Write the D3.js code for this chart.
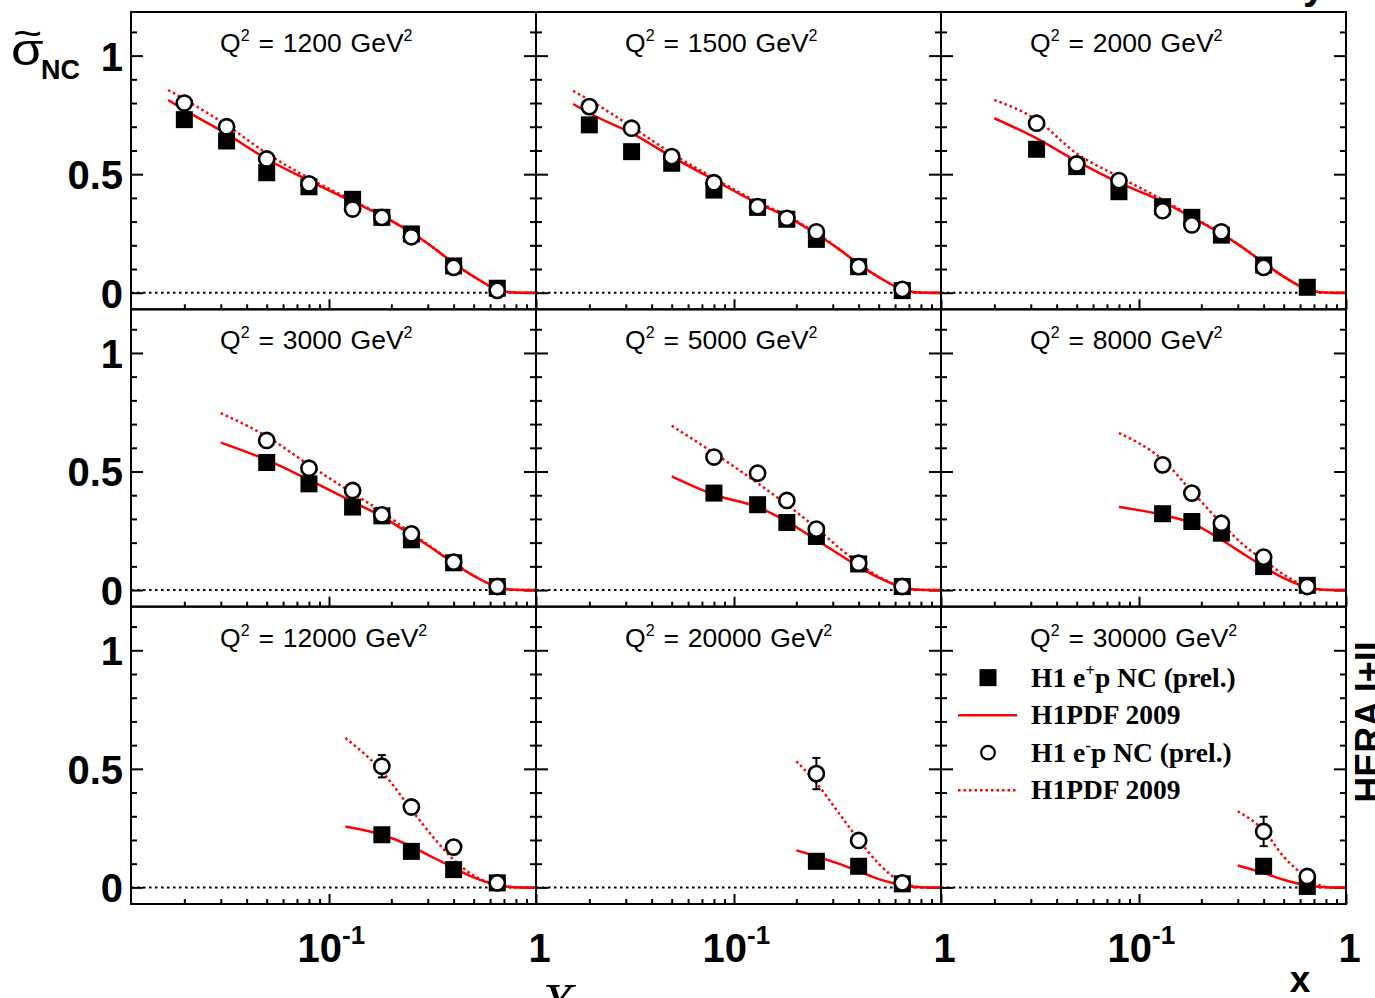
<!DOCTYPE html>
<html>
<head>
<meta charset="utf-8">
<script src="https://cdn.jsdelivr.net/npm/d3@7"></script>
<style>
  body { margin: 0; background: #fff; }
  svg { display: block; }
</style>
</head>
<body>
<svg id="chart" width="1375" height="998"></svg>
<script>
// Q^2 of each panel (GeV^2), in reading order
const q2Values = [1200, 1500, 2000, 3000, 5000, 8000, 12000, 20000, 30000];

// Bjorken-x bin centres shared by all panels
const xBins = [0.02, 0.032, 0.05, 0.08, 0.13, 0.18, 0.25, 0.40, 0.65];

// Reduced NC cross section, e+p (null = no measurement in that bin)
const sigmaPositron = [
  [0.730, 0.640, 0.506, 0.447, 0.394, 0.318, 0.248, 0.113, 0.019],
  [0.708, 0.595, 0.546, 0.433, 0.360, 0.310, 0.225, 0.110, 0.009],
  [null, 0.605, 0.532, 0.426, 0.363, 0.318, 0.243, 0.117, 0.023],
  [null, null, 0.538, 0.448, 0.350, 0.313, 0.212, 0.115, 0.015],
  [null, null, null, 0.409, 0.360, 0.285, 0.226, 0.110, 0.015],
  [null, null, null, null, 0.322, 0.289, 0.240, 0.099, 0.020],
  [null, null, null, null, null, 0.222, 0.152, 0.075, 0.019],
  [null, null, null, null, null, null, 0.110, 0.089, 0.015],
  [null, null, null, null, null, null, null, 0.089, 0.004]
];

// Reduced NC cross section, e-p
const sigmaElectron = [
  [0.800, 0.700, 0.564, 0.459, 0.353, 0.318, 0.236, 0.107, 0.010],
  [0.785, 0.694, 0.574, 0.464, 0.363, 0.314, 0.257, 0.110, 0.014],
  [null, 0.715, 0.543, 0.473, 0.346, 0.286, 0.257, 0.107, null],
  [null, null, 0.631, 0.514, 0.420, 0.317, 0.237, 0.118, 0.015],
  [null, null, null, 0.561, 0.493, 0.378, 0.257, 0.113, 0.015],
  [null, null, null, null, 0.528, 0.409, 0.282, 0.139, 0.015],
  [null, null, null, null, null, 0.511, 0.339, 0.170, 0.019],
  [null, null, null, null, null, null, 0.480, 0.198, 0.019],
  [null, null, null, null, null, null, null, 0.236, 0.046]
];

// Total uncertainty on the e-p points
const errElectron = [
  [0.01, 0.01, 0.01, 0.01, 0.01, 0.01, 0.01, 0.01, 0.005],
  [0.01, 0.01, 0.01, 0.01, 0.01, 0.01, 0.01, 0.01, 0.005],
  [0, 0.01, 0.01, 0.01, 0.01, 0.01, 0.01, 0.01, 0],
  [0, 0, 0.015, 0.01, 0.01, 0.01, 0.01, 0.01, 0.005],
  [0, 0, 0, 0.02, 0.015, 0.01, 0.01, 0.01, 0.005],
  [0, 0, 0, 0, 0.025, 0.02, 0.015, 0.01, 0.005],
  [0, 0, 0, 0, 0, 0.047, 0.025, 0.015, 0.005],
  [0, 0, 0, 0, 0, 0, 0.066, 0.025, 0.008],
  [0, 0, 0, 0, 0, 0, 0, 0.062, 0.02]
];

// H1PDF 2009 prediction for e+p, [x, sigma] samples per panel
const fitPositron = [
  [[0.0167,0.813],[0.02,0.771],[0.032,0.670],[0.05,0.564],[0.08,0.473],[0.13,0.384],[0.18,0.325],[0.25,0.253],[0.32,0.190],[0.40,0.124],[0.50,0.068],[0.65,0.014],[0.75,0.002],[0.85,0],[1,0]],
  [[0.0167,0.796],[0.02,0.757],[0.032,0.673],[0.05,0.574],[0.08,0.476],[0.13,0.377],[0.18,0.321],[0.25,0.248],[0.32,0.185],[0.40,0.121],[0.50,0.066],[0.65,0.014],[0.75,0.002],[0.85,0],[1,0]],
  [[0.02,0.736],[0.032,0.651],[0.05,0.555],[0.08,0.464],[0.13,0.384],[0.18,0.318],[0.25,0.248],[0.32,0.188],[0.40,0.126],[0.50,0.068],[0.65,0.014],[0.75,0.002],[0.85,0],[1,0]],
  [[0.03,0.622],[0.05,0.549],[0.08,0.465],[0.13,0.373],[0.18,0.310],[0.25,0.233],[0.32,0.172],[0.40,0.113],[0.50,0.060],[0.65,0.013],[0.75,0.002],[0.85,0],[1,0]],
  [[0.05,0.479],[0.08,0.402],[0.13,0.350],[0.18,0.289],[0.25,0.212],[0.32,0.152],[0.40,0.099],[0.50,0.052],[0.65,0.012],[0.75,0.002],[0.85,0],[1,0]],
  [[0.08,0.350],[0.13,0.317],[0.18,0.282],[0.25,0.212],[0.32,0.152],[0.40,0.099],[0.50,0.050],[0.65,0.012],[0.75,0.002],[0.85,0],[1,0]],
  [[0.12,0.257],[0.18,0.222],[0.25,0.173],[0.32,0.125],[0.40,0.083],[0.50,0.042],[0.65,0.010],[0.75,0.002],[0.85,0],[1,0]],
  [[0.20,0.156],[0.25,0.131],[0.32,0.100],[0.40,0.068],[0.50,0.035],[0.65,0.010],[0.75,0.002],[0.85,0],[1,0]],
  [[0.30,0.092],[0.40,0.061],[0.50,0.032],[0.65,0.008],[0.75,0.002],[0.85,0],[1,0]]
];

// H1PDF 2009 prediction for e-p
const fitElectron = [
  [[0.0167,0.855],[0.02,0.816],[0.032,0.707],[0.05,0.588],[0.08,0.483],[0.13,0.389],[0.18,0.327],[0.25,0.254],[0.32,0.190],[0.40,0.124],[0.50,0.068],[0.65,0.014],[0.75,0.002],[0.85,0],[1,0]],
  [[0.0167,0.851],[0.02,0.813],[0.032,0.700],[0.05,0.588],[0.08,0.483],[0.13,0.383],[0.18,0.325],[0.25,0.250],[0.32,0.186],[0.40,0.121],[0.50,0.066],[0.65,0.014],[0.75,0.002],[0.85,0],[1,0]],
  [[0.02,0.813],[0.032,0.729],[0.05,0.587],[0.08,0.489],[0.13,0.392],[0.18,0.322],[0.25,0.250],[0.32,0.189],[0.40,0.126],[0.50,0.068],[0.65,0.014],[0.75,0.002],[0.85,0],[1,0]],
  [[0.03,0.746],[0.05,0.648],[0.08,0.528],[0.13,0.409],[0.18,0.330],[0.25,0.240],[0.32,0.175],[0.40,0.115],[0.50,0.061],[0.65,0.013],[0.75,0.002],[0.85,0],[1,0]],
  [[0.05,0.693],[0.08,0.578],[0.13,0.451],[0.18,0.360],[0.25,0.261],[0.32,0.180],[0.40,0.113],[0.50,0.057],[0.65,0.013],[0.75,0.002],[0.85,0],[1,0]],
  [[0.08,0.662],[0.13,0.549],[0.18,0.416],[0.25,0.282],[0.32,0.190],[0.40,0.127],[0.50,0.065],[0.65,0.014],[0.75,0.002],[0.85,0],[1,0]],
  [[0.12,0.630],[0.18,0.490],[0.25,0.328],[0.32,0.210],[0.40,0.117],[0.50,0.050],[0.65,0.012],[0.75,0.002],[0.85,0],[1,0]],
  [[0.20,0.532],[0.25,0.440],[0.32,0.315],[0.40,0.201],[0.50,0.100],[0.65,0.020],[0.75,0.004],[0.85,0],[1,0]],
  [[0.30,0.321],[0.40,0.240],[0.50,0.130],[0.65,0.040],[0.75,0.008],[0.85,0],[1,0]]
];

// Axis ticks and their labels
const yMajorTicks = [0, 0.5, 1];
const yTickLabels = ["0", "0.5", "1"];
const yMinorTicks = [0.1, 0.2, 0.3, 0.4, 0.6, 0.7, 0.8, 0.9, 1.1];
const xMajorTicks = [0.1, 1];
const xMinorTicks = [0.02, 0.03, 0.04, 0.05, 0.06, 0.07, 0.08, 0.09, 0.2, 0.3, 0.4, 0.5, 0.6, 0.7, 0.8, 0.9];

// Legend entries
const legendLabels = [
  { kind: "square", pre: "H1 e", sup: "+", post: "p NC (prel.)" },
  { kind: "solid",  pre: "H1PDF 2009", sup: "", post: "" },
  { kind: "circle", pre: "H1 e", sup: "-", post: "p NC (prel.)" },
  { kind: "dotted", pre: "H1PDF 2009", sup: "", post: "" }
];

// ---------------------------------------------------------------- layout
const svg = d3.select("#chart");
const gridLeft = 131, gridTop = 12;
const panelW = 405, panelH = 297.33;
const SANS = "'Liberation Sans', Arial, Helvetica, sans-serif";
const SERIF = "'Liberation Serif', 'Times New Roman', serif";
const RED = "#ff0000";

const x = d3.scaleLog().domain([0.01105, 1]).range([0, panelW]);
const y = d3.scaleLinear().domain([-0.07, 1.184]).range([panelH, 0]);

const smoothLine = d3.line().x(d => x(d[0])).y(d => y(d[1])).curve(d3.curveMonotoneX);

function styleTicks(g) {
  g.select(".domain").remove();
  g.selectAll(".tick line").attr("stroke", "#000").attr("stroke-width", 2);
}

q2Values.forEach((q2, i) => {
  const row = Math.floor(i / 3), col = i % 3;
  const g = svg.append("g")
    .attr("transform", `translate(${gridLeft + col * panelW},${gridTop + row * panelH})`);

  // tick marks on the left, right and bottom edges (pointing inwards)
  g.append("g").call(d3.axisRight(y).tickValues(yMinorTicks).tickSize(6).tickFormat("")).call(styleTicks);
  g.append("g").call(d3.axisRight(y).tickValues(yMajorTicks).tickSize(12).tickFormat("")).call(styleTicks);
  g.append("g").attr("transform", `translate(${panelW},0)`)
    .call(d3.axisLeft(y).tickValues(yMinorTicks).tickSize(6).tickFormat("")).call(styleTicks);
  g.append("g").attr("transform", `translate(${panelW},0)`)
    .call(d3.axisLeft(y).tickValues(yMajorTicks).tickSize(12).tickFormat("")).call(styleTicks);
  g.append("g").attr("transform", `translate(0,${panelH})`)
    .call(d3.axisTop(x).tickValues(xMinorTicks).tickSize(5).tickFormat("")).call(styleTicks);
  g.append("g").attr("transform", `translate(0,${panelH})`)
    .call(d3.axisTop(x).tickValues(xMajorTicks).tickSize(10).tickFormat("")).call(styleTicks);

  // y tick labels on the first column
  if (col === 0) {
    const ax = g.append("g")
      .call(d3.axisLeft(y).tickValues(yMajorTicks).tickSize(0).tickPadding(8)
        .tickFormat((d, k) => yTickLabels[k]));
    ax.select(".domain").remove();
    ax.selectAll("text")
      .attr("font-family", SANS).attr("font-weight", "bold").attr("font-size", 40)
      .attr("fill", "#000").attr("dy", "0.36em");
  }

  // x tick labels on the bottom row
  if (row === 2) {
    const ax = g.append("g").attr("transform", `translate(0,${panelH})`)
      .call(d3.axisBottom(x).tickValues(xMajorTicks).tickSize(0).tickFormat(""));
    ax.select(".domain").remove();
    ax.selectAll(".tick").each(function (d) {
      const t = d3.select(this).append("text")
        .attr("font-family", SANS).attr("font-weight", "bold").attr("font-size", 40)
        .attr("fill", "#000").attr("y", 58);
      if (d === 1) {
        t.attr("text-anchor", "middle").attr("x", 3).text("1");
      } else {
        t.attr("text-anchor", "start").attr("x", -32);
        t.append("tspan").text("10");
        t.append("tspan").attr("font-size", 26).attr("dy", -18).text("-1");
      }
    });
  }

  // horizontal reference at zero
  g.append("line")
    .attr("x1", 0).attr("x2", panelW).attr("y1", y(0)).attr("y2", y(0))
    .attr("stroke", "#000").attr("stroke-width", 2).attr("stroke-dasharray", "2.5,3.5");

  // predictions
  g.append("path").datum(fitElectron[i])
    .attr("d", smoothLine).attr("fill", "none").attr("stroke", RED)
    .attr("stroke-width", 2.5).attr("stroke-dasharray", "2.5,3");
  g.append("path").datum(fitPositron[i])
    .attr("d", smoothLine).attr("fill", "none").attr("stroke", RED).attr("stroke-width", 2.5);

  // e+p points
  const plus = xBins.map((xv, k) => ({ x: xv, v: sigmaPositron[i][k] })).filter(d => d.v !== null);
  g.selectAll("rect.pos").data(plus).enter().append("rect")
    .attr("class", "pos")
    .attr("x", d => x(d.x) - 8.5).attr("y", d => y(d.v) - 8.5)
    .attr("width", 17).attr("height", 17).attr("fill", "#000");

  // e-p points with error bars
  const minus = xBins.map((xv, k) => ({ x: xv, v: sigmaElectron[i][k], e: errElectron[i][k] }))
    .filter(d => d.v !== null);
  const eb = g.selectAll("g.err").data(minus.filter(d => d.e > 0)).enter().append("g").attr("class", "err");
  eb.append("line")
    .attr("x1", d => x(d.x)).attr("x2", d => x(d.x))
    .attr("y1", d => y(d.v - d.e)).attr("y2", d => y(d.v + d.e))
    .attr("stroke", "#000").attr("stroke-width", 2);
  [1, -1].forEach(s => {
    eb.append("line")
      .attr("x1", d => x(d.x) - 4).attr("x2", d => x(d.x) + 4)
      .attr("y1", d => y(d.v + s * d.e)).attr("y2", d => y(d.v + s * d.e))
      .attr("stroke", "#000").attr("stroke-width", 2);
  });
  g.selectAll("circle.neg").data(minus).enter().append("circle")
    .attr("class", "neg")
    .attr("cx", d => x(d.x)).attr("cy", d => y(d.v)).attr("r", 7.6)
    .attr("fill", "#fff").attr("stroke", "#000").attr("stroke-width", 2.6);

  // panel frame
  g.append("rect").attr("width", panelW).attr("height", panelH)
    .attr("fill", "none").attr("stroke", "#000").attr("stroke-width", 2);

  // Q^2 label
  const lab = g.append("text")
    .attr("x", 89).attr("y", 40)
    .attr("font-family", SANS).attr("font-size", 26.5).attr("word-spacing", 1.5).attr("fill", "#000");
  lab.append("tspan").text("Q");
  lab.append("tspan").attr("font-size", 16).attr("dy", -11).text("2");
  lab.append("tspan").attr("dy", 11).text(` = ${q2} GeV`);
  lab.append("tspan").attr("font-size", 16).attr("dy", -11).text("2");
});

// ---------------------------------------------------------------- legend
const lg = svg.append("g").attr("transform", `translate(${gridLeft + 2 * panelW},${gridTop + 2 * panelH})`);
legendLabels.forEach((L, k) => {
  const cy = 71 + k * 37.5;
  if (L.kind === "square") {
    lg.append("rect").attr("x", 47 - 8.5).attr("y", cy - 8.5).attr("width", 17).attr("height", 17).attr("fill", "#000");
  } else if (L.kind === "circle") {
    lg.append("circle").attr("cx", 47).attr("cy", cy).attr("r", 6.8)
      .attr("fill", "#fff").attr("stroke", "#000").attr("stroke-width", 2.2);
  } else {
    lg.append("line").attr("x1", 17).attr("x2", 76).attr("y1", cy).attr("y2", cy)
      .attr("stroke", RED).attr("stroke-width", 2.5)
      .attr("stroke-dasharray", L.kind === "dotted" ? "2.5,3" : null);
  }
  const t = lg.append("text").attr("x", 90).attr("y", cy + 9)
    .attr("font-family", SERIF).attr("font-weight", "bold").attr("font-size", 27.5).attr("fill", "#000");
  t.append("tspan").text(L.pre);
  if (L.sup) {
    t.append("tspan").attr("font-size", 17).attr("dy", -11).text(L.sup);
    t.append("tspan").attr("dy", 11).text(L.post);
  }
});

// ---------------------------------------------------------------- titles
// y-axis title: sigma-tilde with NC subscript
svg.append("text").attr("transform", "translate(13,47) scale(1.25,1)")
  .attr("font-family", SANS).attr("font-size", 40).attr("fill", "#000").text("~");
svg.append("text").attr("transform", "translate(11,65) scale(1.2,1)")
  .attr("font-family", SANS).attr("font-size", 44).attr("fill", "#000").text("σ");
svg.append("text").attr("x", 41).attr("y", 79)
  .attr("font-family", SANS).attr("font-weight", "bold").attr("font-size", 27).attr("fill", "#000").text("NC");

// x-axis titles
svg.append("text").attr("x", 1300).attr("y", 992).attr("text-anchor", "middle")
  .attr("font-family", SANS).attr("font-weight", "bold").attr("font-size", 37).attr("fill", "#000").text("x");
svg.append("text").attr("x", 540).attr("y", 1023)
  .attr("font-family", SERIF).attr("font-style", "italic").attr("font-size", 56).attr("fill", "#000").text("X");

// headline descender and data-set tag at the page edges
svg.append("text").attr("x", 1303).attr("y", -1)
  .attr("font-family", SANS).attr("font-weight", "bold").attr("font-size", 40).attr("fill", "#000").text("y");
svg.append("text").attr("transform", "translate(1381,722) rotate(-90)").attr("text-anchor", "middle")
  .attr("font-family", SANS).attr("font-weight", "bold").attr("font-size", 36).attr("fill", "#000").text("HERA I+II");
</script>
</body>
</html>
